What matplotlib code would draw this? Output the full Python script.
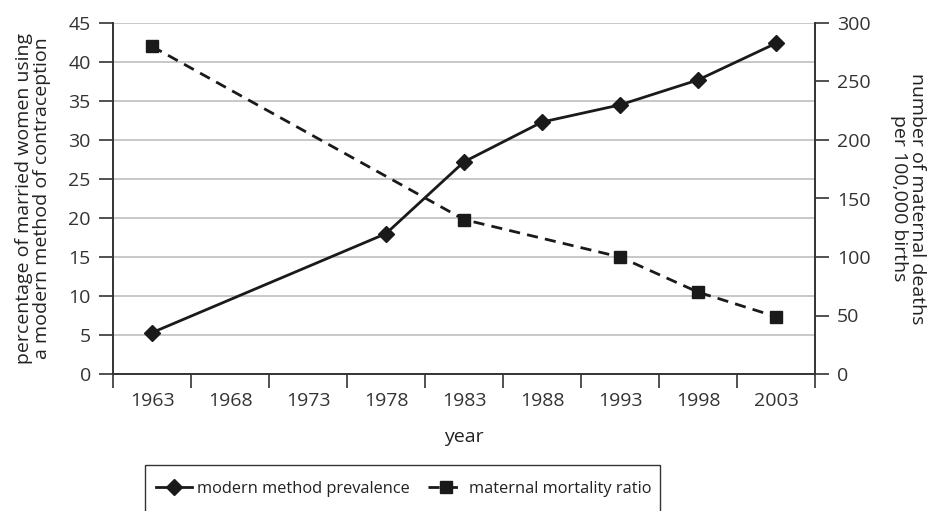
import matplotlib
matplotlib.use("Agg")
import matplotlib.pyplot as plt
from matplotlib.patches import Rectangle
import numpy as np

years = ["1963", "1968", "1973", "1978", "1983", "1988", "1993", "1998", "2003"]
prev_years = ["1963", "1978", "1983", "1988", "1993", "1998", "2003"]
prevalence = [5.3, 18.0, 27.2, 32.3, 34.5, 37.7, 42.4]
mort_years = ["1963", "1983", "1993", "1998", "2003"]
mortality = [280, 132, 100, 70, 49]

plt.rcParams['font.family'] = ['Open Sans', 'DejaVu Sans']
FS = 14
LFS = 14

fig = plt.figure(figsize=(9.34, 5.11), dpi=100)
ax = fig.add_axes([113/934, 1-374/511, (815-113)/934, (374-23)/511])
ax2 = ax.twinx()

px = [years.index(y) for y in prev_years]
mx = [years.index(y) for y in mort_years]

ax.set_xlim(-0.5, len(years) - 0.5)
ax.set_ylim(0, 45)
ax2.set_ylim(0, 300)

ax.set_yticks(np.arange(0, 46, 5))
for v in np.arange(5, 46, 5):
    ax.axhline(v, color='#c4c4c4', lw=1.3, zorder=0)

l1, = ax.plot(px, prevalence, color='#1a1a1a', lw=2, marker='D', ms=8,
              label='modern method prevalence', zorder=3)
l2, = ax2.plot(mx, mortality, color='#1a1a1a', lw=2, ls=(0, (4, 2.6)), marker='s', ms=8,
               label='maternal mortality ratio', zorder=3)

ax2.set_yticks(np.arange(0, 301, 50))

ax.set_xticks(np.arange(-0.5, len(years)), labels=[''] * (len(years) + 1))
ax.set_xticks(np.arange(len(years)), labels=years, minor=True)
ax.tick_params(axis='x', which='major', length=10, width=1.2, color='#333333', direction='out')
ax.tick_params(axis='x', which='minor', length=0, labelsize=FS, pad=13, labelcolor='#333333')
ax.tick_params(axis='y', length=10, width=1.2, color='#333333', labelsize=FS, pad=6, labelcolor='#333333')
ax2.tick_params(axis='y', length=10, width=1.2, color='#333333', labelsize=FS, pad=6, labelcolor='#333333')

for a in (ax, ax2):
    a.spines['top'].set_visible(False)
    for s in ('left', 'right', 'bottom'):
        a.spines[s].set_color('#333333')
        a.spines[s].set_linewidth(1.2)

ax.set_xlabel('year', fontsize=FS, color='#222222', labelpad=13)
ax.set_ylabel('percentage of married women using\na modern method of contraception',
              fontsize=LFS, color='#222222', linespacing=1.05, va='center')
ax.yaxis.set_label_coords(-80/702, 0.5)
ax2.set_ylabel('number of maternal deaths\nper 100,000 births', fontsize=LFS,
               color='#222222', rotation=270, linespacing=1.05, va='center')
ax2.yaxis.set_label_coords(1 + 93/702, 0.5)

leg = fig.legend(handles=[l1, l2], loc='center left', bbox_to_anchor=(156/934, 1-489/511),
                 ncol=2, frameon=False, fontsize=11.8, handlelength=2.2,
                 columnspacing=1.1, borderpad=0, handletextpad=0.3, borderaxespad=0)
for t in leg.get_texts():
    t.set_color('#222222')

fig.patches.append(Rectangle((145/934, -0.05), (660-145)/934, (1-465/511) + 0.05,
                             transform=fig.transFigure, fill=False, ec='#333333', lw=1.0))

fig.savefig('out.png', dpi=100)
